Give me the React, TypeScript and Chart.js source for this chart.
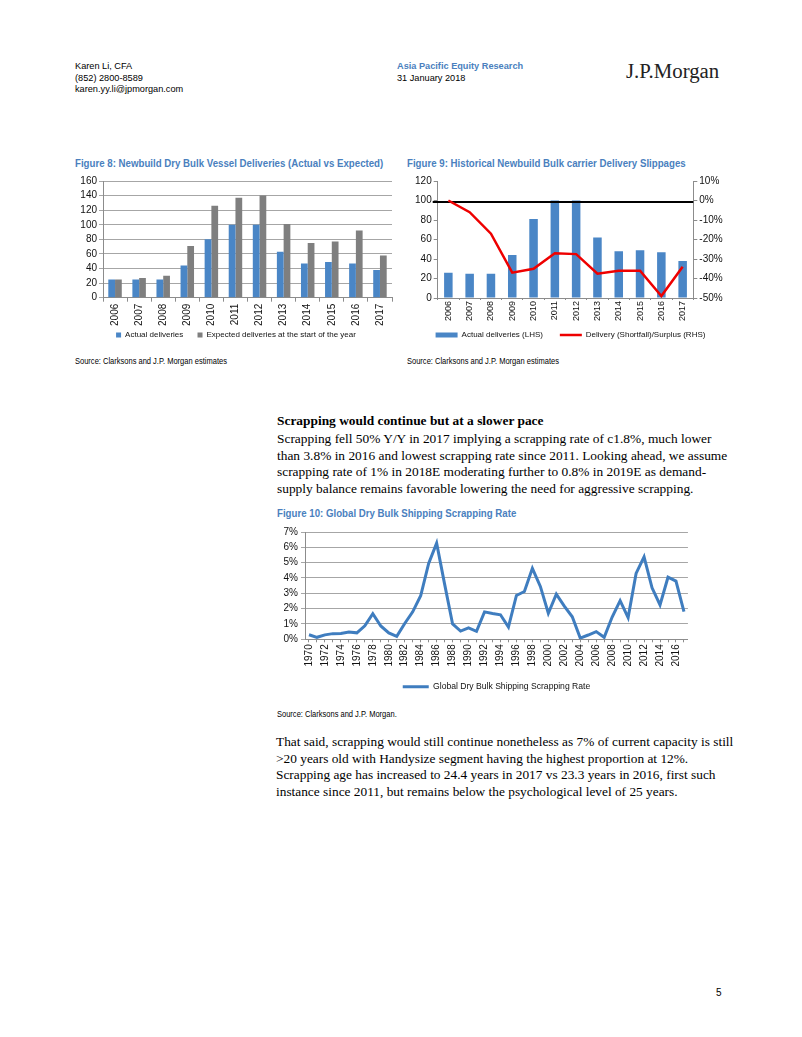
import React, { useEffect, useRef } from 'react';
import { Chart, registerables } from 'chart.js';

Chart.register(...registerables);

// ---------- Data ----------
const deliveryYears = ['2006', '2007', '2008', '2009', '2010', '2011', '2012', '2013', '2014', '2015', '2016', '2017'];
const actualDeliveries = [25, 25, 25, 44, 80, 100, 100, 63, 47, 49, 47, 38];
const expectedDeliveries = [25, 27, 30, 71, 126, 137, 140, 101, 75, 77, 92, 58];

const slippageActual = [26, 25, 25, 44, 81, 100, 100, 62, 48, 49, 47, 38];
const slippagePct = [0, -6, -17, -37, -35, -27, -27.5, -37.5, -36, -36, -49, -34];
const slippageRefLine = -0.8;

const scrapYears = [
  '1970', '1971', '1972', '1973', '1974', '1975', '1976', '1977', '1978', '1979',
  '1980', '1981', '1982', '1983', '1984', '1985', '1986', '1987', '1988', '1989',
  '1990', '1991', '1992', '1993', '1994', '1995', '1996', '1997', '1998', '1999',
  '2000', '2001', '2002', '2003', '2004', '2005', '2006', '2007', '2008', '2009',
  '2010', '2011', '2012', '2013', '2014', '2015', '2016', '2017',
];
const scrapRate = [
  0.3, 0.13, 0.29, 0.37, 0.38, 0.48, 0.42, 0.88, 1.67, 0.87,
  0.42, 0.19, 1.03, 1.79, 2.84, 4.95, 6.27, 3.6, 1.0, 0.54,
  0.75, 0.52, 1.79, 1.68, 1.6, 0.8, 2.86, 3.12, 4.63, 3.45,
  1.7, 2.95, 2.16, 1.47, 0.08, 0.28, 0.5, 0.13, 1.45, 2.52,
  1.42, 4.3, 5.38, 3.36, 2.24, 4.05, 3.8, 1.8,
];

// ---------- Styles ----------
const SANS = "'Liberation Sans', Arial, sans-serif";
const SERIF = "'Liberation Serif', 'Times New Roman', serif";
const TITLE_BLUE = '#4a7fbe';
const BAR_BLUE = '#4a86c6';
const BAR_GREY = '#7f7f7f';
const LINE_BLUE = '#3f7dbf';
const LINE_RED = '#ee0000';
const GRID = '#a6a6a6';
const AXIS = '#8c8c8c';

Chart.defaults.font.family = SANS;
Chart.defaults.font.size = 10;
Chart.defaults.color = '#111';

function spacedLabels(spaces: number) {
  return (chart: any) => {
    const items = Chart.defaults.plugins.legend.labels.generateLabels(chart);
    items.sort((a: any, b: any) => a.datasetIndex - b.datasetIndex);
    const pad = '\u00a0'.repeat(spaces);
    return items.map((it: any, i: number) => (i < items.length - 1 ? { ...it, text: it.text + pad } : it));
  };
}

function useChart(build: () => any) {
  const ref = useRef<HTMLCanvasElement | null>(null);
  useEffect(() => {
    if (!ref.current) return;
    const chart = new Chart(ref.current, build());
    return () => chart.destroy();
  }, []);
  return ref;
}

function Fig8() {
  const ref = useChart(() => ({
    type: 'bar',
    data: {
      labels: deliveryYears,
      datasets: [
        { label: 'Actual deliveries', data: actualDeliveries, backgroundColor: BAR_BLUE, categoryPercentage: 0.56, barPercentage: 1 },
        { label: 'Expected deliveries at the start of the year', data: expectedDeliveries, backgroundColor: BAR_GREY, categoryPercentage: 0.56, barPercentage: 1 },
      ],
    },
    options: {
      responsive: false,
      animation: false,
      layout: { padding: { top: 8, right: 4, left: 10, bottom: 0 } },
      plugins: {
        tooltip: { enabled: false },
        legend: {
          position: 'bottom',
          labels: { boxWidth: 5, boxHeight: 5, padding: 5.3, font: { size: 8 }, generateLabels: spacedLabels(4) },
        },
      },
      scales: {
        x: {
          afterFit: (s: any) => { s.height = 28; },
          grid: { drawOnChartArea: false, drawTicks: true, tickLength: 4, color: AXIS },
          border: { color: AXIS },
          ticks: { minRotation: 90, maxRotation: 90, autoSkip: false, padding: 2 },
        },
        y: {
          min: 0, max: 160,
          afterFit: (s: any) => { s.width = 23; },
          grid: { color: GRID, tickLength: 4 },
          border: { color: AXIS },
          ticks: { stepSize: 20, padding: 2, autoSkip: false },
        },
      },
    },
  }));
  return <canvas ref={ref} width={326} height={176} />;
}

const refLinePlugin = {
  id: 'refLine',
  afterDatasetDraw(chart: any, args: any) {
    if (args.index !== 0) return;
    const y = chart.scales.y1.getPixelForValue(slippageRefLine);
    const { left, right } = chart.chartArea;
    const ctx = chart.ctx;
    ctx.save();
    ctx.strokeStyle = '#000';
    ctx.lineWidth = 2;
    ctx.beginPath();
    ctx.moveTo(left - 5, y);
    ctx.lineTo(right, y);
    ctx.stroke();
    ctx.restore();
  },
};

function Fig9() {
  const ref = useChart(() => ({
    type: 'bar',
    data: {
      labels: deliveryYears,
      datasets: [
        { type: 'bar', label: 'Actual deliveries (LHS)', data: slippageActual, backgroundColor: BAR_BLUE, borderColor: BAR_BLUE, borderWidth: 0, barPercentage: 0.4, categoryPercentage: 1, yAxisID: 'y', order: 1, pointStyle: 'rect' },
        { type: 'line', label: 'Delivery (Shortfall)/Surplus (RHS)', data: slippagePct, borderColor: LINE_RED, backgroundColor: LINE_RED, borderWidth: 2.5, pointRadius: 0, tension: 0, yAxisID: 'y1', order: 0, pointStyle: 'line' },
      ],
    },
    plugins: [refLinePlugin],
    options: {
      responsive: false,
      animation: false,
      layout: { padding: { top: 8, right: 0, left: 10, bottom: 0 } },
      plugins: {
        tooltip: { enabled: false },
        legend: {
          position: 'bottom',
          labels: {
            usePointStyle: true, pointStyleWidth: 22, boxWidth: 22, boxHeight: 5, padding: 8, font: { size: 8 },
            generateLabels: spacedLabels(4),
          },
        },
      },
      scales: {
        x: {
          afterFit: (s: any) => { s.height = 25; },
          grid: { drawOnChartArea: false, drawTicks: true, tickLength: 2, color: AXIS },
          border: { color: AXIS },
          ticks: { minRotation: 90, maxRotation: 90, autoSkip: false, padding: 1, font: { size: 9 } },
        },
        y: {
          position: 'left',
          min: 0, max: 120,
          afterFit: (s: any) => { s.width = 22.7; },
          grid: { drawOnChartArea: false, tickLength: 4, color: AXIS },
          border: { color: AXIS },
          ticks: { stepSize: 20, padding: 2, autoSkip: false },
        },
        y1: {
          position: 'right',
          min: -50, max: 10,
          afterFit: (s: any) => { s.width = 32.7; },
          grid: { drawOnChartArea: false, tickLength: 4, color: AXIS },
          border: { color: AXIS },
          ticks: { stepSize: 10, padding: 2, autoSkip: false, callback: (v: any) => v + '%' },
        },
      },
    },
  }));
  return <canvas ref={ref} width={321} height={176} />;
}

function Fig10() {
  const ref = useChart(() => ({
    type: 'line',
    data: {
      labels: scrapYears,
      datasets: [
        { label: 'Global Dry Bulk Shipping Scrapping Rate', data: scrapRate, borderColor: LINE_BLUE, backgroundColor: LINE_BLUE, borderWidth: 3, pointRadius: 0, tension: 0, pointStyle: 'line' },
      ],
    },
    options: {
      responsive: false,
      animation: false,
      layout: { padding: { top: 8, right: 4, left: 0, bottom: 0 } },
      plugins: {
        tooltip: { enabled: false },
        legend: {
          position: 'bottom',
          fullSize: false,
          labels: { usePointStyle: true, pointStyleWidth: 26, boxWidth: 26, boxHeight: 4, padding: 10, font: { size: 8.6 } },
        },
      },
      scales: {
        x: {
          offset: true,
          afterFit: (s: any) => { s.height = 33.1; },
          grid: { drawOnChartArea: false, drawTicks: true, tickLength: 3, color: AXIS },
          border: { color: AXIS },
          ticks: {
            minRotation: 90, maxRotation: 90, autoSkip: false, padding: 2,
            callback: (_v: any, i: number) => (i % 2 === 0 ? scrapYears[i] : ''),
          },
        },
        y: {
          min: 0, max: 7,
          afterFit: (s: any) => { s.width = 35; },
          grid: { color: GRID, tickLength: 4 },
          border: { color: AXIS },
          ticks: { stepSize: 1, padding: 3, autoSkip: false, callback: (v: any) => v + '%' },
        },
      },
    },
  }));
  return <canvas ref={ref} width={428} height={178} />;
}

function Line({ x, cy, size, lh, family, bold, color, sx, children }: any) {
  return (
    <div
      style={{
        position: 'absolute', left: x, top: cy - lh / 2, height: lh, lineHeight: lh + 'px',
        fontSize: size, fontFamily: family, fontWeight: bold ? 'bold' : 'normal',
        color: color || '#000', whiteSpace: 'nowrap',
        transform: sx ? `scaleX(${sx})` : undefined, transformOrigin: 'left center',
      }}
    >
      {children}
    </div>
  );
}

const para1 = [
  'Scrapping fell 50% Y/Y in 2017 implying a scrapping rate of c1.8%, much lower',
  'than 3.8% in 2016 and lowest scrapping rate since 2011. Looking ahead, we assume',
  'scrapping rate of 1% in 2018E moderating further to 0.8% in 2019E as demand-',
  'supply balance remains favorable lowering the need for aggressive scrapping.',
];
const para2 = [
  'That said, scrapping would still continue nonetheless as 7% of current capacity is still',
  '>20 years old with Handysize segment having the highest proportion at 12%.',
  'Scrapping age has increased to 24.4 years in 2017 vs 23.3 years in 2016, first such',
  'instance since 2011, but remains below the psychological level of 25 years.',
];
const para1Y = [439, 456, 472, 489];
const para2Y = [742, 759, 775, 792];

export default function App() {
  return (
    <div style={{ position: 'absolute', left: 0, top: 0, width: 802, height: 1037, background: '#fff', overflow: 'hidden' }}>
      {/* header */}
      <Line x={75} cy={67} size={9.2} lh={11.3} family={SANS}>Karen Li, CFA</Line>
      <Line x={75} cy={79} size={9.2} lh={11.3} family={SANS}>(852) 2800-8589</Line>
      <Line x={75} cy={90} size={9.2} lh={11.3} family={SANS}>karen.yy.li@jpmorgan.com</Line>
      <Line x={397} cy={67} size={9.2} lh={11.3} family={SANS} bold color={TITLE_BLUE}>Asia Pacific Equity Research</Line>
      <Line x={397} cy={79} size={9.2} lh={11.3} family={SANS}>31 January 2018</Line>
      <Line x={626} cy={71} size={20.8} lh={24} family={SERIF} color="#222">J.P.Morgan</Line>

      {/* Figure 8 */}
      <Line x={75} cy={163} size={11} lh={13} family={SANS} bold color={TITLE_BLUE} sx={0.88}>Figure 8: Newbuild Dry Bulk Vessel Deliveries (Actual vs Expected)</Line>
      <div style={{ position: 'absolute', left: 70, top: 173, width: 326, height: 176 }}><Fig8 /></div>
      <Line x={75} cy={361} size={9} lh={11} family={SANS} sx={0.835}>Source: Clarksons and J.P. Morgan estimates</Line>

      {/* Figure 9 */}
      <Line x={407} cy={163} size={11} lh={13} family={SANS} bold color={TITLE_BLUE} sx={0.88}>Figure 9: Historical Newbuild Bulk carrier Delivery Slippages</Line>
      <div style={{ position: 'absolute', left: 405, top: 173, width: 321, height: 176 }}><Fig9 /></div>
      <Line x={407} cy={361} size={9} lh={11} family={SANS} sx={0.835}>Source: Clarksons and J.P. Morgan estimates</Line>

      {/* text block 1 */}
      <Line x={277} cy={421} size={13.4} lh={16.5} family={SERIF} bold>Scrapping would continue but at a slower pace</Line>
      {para1.map((t, i) => (
        <Line key={'p1' + i} x={277} cy={para1Y[i]} size={13.4} lh={16.5} family={SERIF}>{t}</Line>
      ))}

      {/* Figure 10 */}
      <Line x={277} cy={513} size={11} lh={13} family={SANS} bold color={TITLE_BLUE} sx={0.88}>Figure 10: Global Dry Bulk Shipping Scrapping Rate</Line>
      <div style={{ position: 'absolute', left: 270, top: 523, width: 428, height: 178 }}><Fig10 /></div>
      <Line x={277} cy={714} size={9} lh={11} family={SANS} sx={0.835}>Source: Clarksons and J.P. Morgan.</Line>

      {/* text block 2 */}
      {para2.map((t, i) => (
        <Line key={'p2' + i} x={276} cy={para2Y[i]} size={13.35} lh={16.5} family={SERIF}>{t}</Line>
      ))}

      <Line x={716} cy={993} size={10} lh={12} family={SANS}>5</Line>
    </div>
  );
}
